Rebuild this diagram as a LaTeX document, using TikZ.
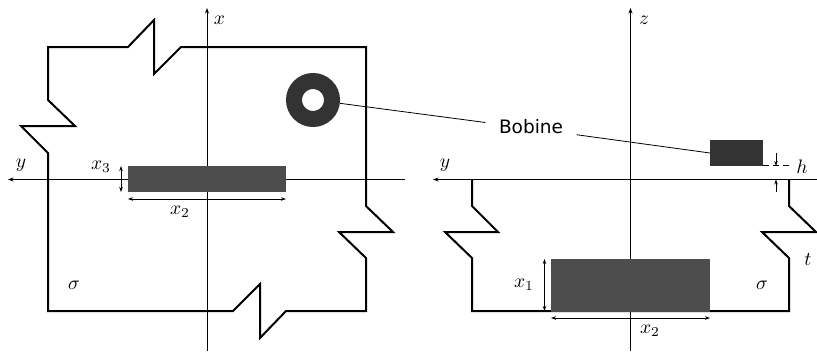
\documentclass[tikz,border=0pt]{standalone}
\usepackage{fontspec}
\newfontfamily\labelfont{DejaVu Sans}
\usetikzlibrary{arrows.meta}
\definecolor{coilc}{HTML}{333333}
\definecolor{platec}{HTML}{4D4D4D}
\tikzset{
  thinline/.style={line width=0.8pt,black},
  axisline/.style={thinline,-{Stealth[length=5.5pt,width=4pt]}},
  dimline/.style={line width=0.7pt,black,{Stealth[length=5pt,width=3.5pt]}-{Stealth[length=5pt,width=3.5pt]}},
  onearrow/.style={line width=0.7pt,black,-{Stealth[length=5pt,width=3.5pt]}},
  outline/.style={line width=2pt,black,line join=miter},
  block/.style={draw=none,inner sep=0pt,outer sep=0pt,anchor=north west},
  mathlabel/.style={inner sep=0pt,scale=1.95}
}
\begin{document}
\begin{tikzpicture}[x=1pt,y=-1pt]
\useasboundingbox (0,0) rectangle (817,351);
% left outline
\draw[outline] (48,47) -- (128,47) -- (154,20) -- (154,74) -- (181,47) -- (366,47) -- (366,206) -- (393,232) -- (339,232) -- (366,258) -- (366,311) -- (286,311) -- (260,338) -- (260,284) -- (233,311) -- (48,311) -- (48,153) -- (21,126) -- (75,126) -- (48,100) -- cycle;
% right outline
\draw[outline] (472,179.5) -- (472,206) -- (498,232) -- (445,232) -- (472,258) -- (472,311) -- (789,311) -- (789,258) -- (762,232) -- (816,232) -- (789,206) -- (789,179.5);
% axes
\coordinate (xb) at (207,351); \coordinate (xt) at (207,8);
\coordinate (yr) at (405,179.5); \coordinate (yl) at (8,179.5);
\coordinate (zb) at (630.5,351); \coordinate (zt) at (630.5,8);
\coordinate (wr) at (817,179.5); \coordinate (wl) at (433,179.5);
\draw[axisline] (xb) -- (xt);
\draw[axisline] (yr) -- (yl);
\draw[axisline] (zb) -- (zt);
\draw[axisline] (wr) -- (wl);
% nodes
\node[block,fill=platec,minimum width=158pt,minimum height=26pt] (plateL) at (128,166) {};
\node[block,fill=platec,minimum width=159pt,minimum height=52.5pt] (plateR) at (551,259) {};
\node[block,fill=coilc,minimum width=53pt,minimum height=26pt] (coil) at (710,140) {};
\node[circle,draw=coilc,line width=16pt,minimum size=38pt,inner sep=0pt,fill=white] (torus) at (313,100) {};
\node[inner xsep=13.5pt,inner ysep=0pt,text height=14pt,text depth=3.5pt,font=\labelfont\fontsize{18.5}{20}\selectfont] (bob) at (531,128.5) {Bobine};
\draw[thinline] (torus.-7) -- (bob);
\draw[thinline] (bob) -- (coil.west);
% dimensions
\coordinate (x3a) at (121,166); \coordinate (x3b) at (121,192);
\draw[dimline] (x3a) -- (x3b);
\coordinate (x2a) at (128,199); \coordinate (x2b) at (286,199);
\draw[dimline] (x2a) -- (x2b);
\coordinate (x1a) at (544.5,259); \coordinate (x1b) at (544.5,311);
\draw[dimline] (x1a) -- (x1b);
\coordinate (x2c) at (551,318); \coordinate (x2d) at (710,318);
\draw[dimline] (x2c) -- (x2d);
\coordinate (h1) at (776,153); \coordinate (h2) at (776,166);
\coordinate (h3) at (776,192); \coordinate (h4) at (776,179.5);
\draw[onearrow] (h1) -- (h2);
\draw[onearrow] (h3) -- (h4);
\coordinate (d1) at (763,165.5); \coordinate (d2) at (789,165.5);
\draw[line width=0.7pt,dash pattern=on 6pt off 4pt] (d1) -- (d2);
% labels
\node[mathlabel] (lx) at (219.5,20) {$x$};
\node[mathlabel] (ly1) at (21,165) {$y$};
\node[mathlabel] (lx3) at (101,167) {$x_3$};
\node[mathlabel] (lx2) at (180,212) {$x_2$};
\node[mathlabel] (ls1) at (74,285) {$\sigma$};
\node[mathlabel] (lz) at (644,20) {$z$};
\node[mathlabel] (ly2) at (445,165) {$y$};
\node[mathlabel] (lh) at (802,167) {$h$};
\node[mathlabel] (lt) at (808,259) {$t$};
\node[mathlabel] (ls2) at (762,285) {$\sigma$};
\node[mathlabel] (lx1) at (524,285) {$x_1$};
\node[mathlabel] (lx2b) at (650,331) {$x_2$};
\end{tikzpicture}
\end{document}
